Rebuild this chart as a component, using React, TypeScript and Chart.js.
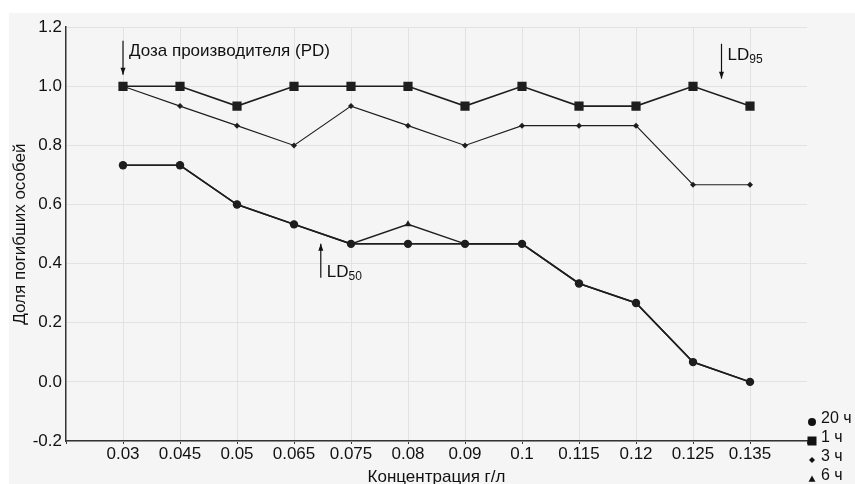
import React, { useEffect, useRef } from 'react';
import { Chart, registerables } from 'chart.js';

Chart.register(...registerables);

// ---- data ----
const concentrations = ['0.03', '0.045', '0.05', '0.065', '0.075', '0.08', '0.09', '0.1', '0.115', '0.12', '0.125', '0.135'];
const yTickValues = [-0.2, 0.0, 0.2, 0.4, 0.6, 0.8, 1.0, 1.2];
const series20h = [0.733, 0.733, 0.6, 0.533, 0.467, 0.467, 0.467, 0.467, 0.333, 0.267, 0.067, 0.0];
const series1h = [1.0, 1.0, 0.933, 1.0, 1.0, 1.0, 0.933, 1.0, 0.933, 0.933, 1.0, 0.933];
const series3h = [1.0, 0.933, 0.867, 0.8, 0.933, 0.867, 0.8, 0.867, 0.867, 0.867, 0.667, 0.667];
const series6h = [0.733, 0.733, 0.6, 0.533, 0.467, 0.533, 0.467, 0.467, 0.333, 0.267, 0.067, 0.0];
const seriesNames = ['20 ч', '1 ч', '3 ч', '6 ч'];

const xTitle = 'Концентрация г/л';
const yTitle = 'Доля погибших особей';

// annotations: arrow from (x, yFrom) to (x, yTo) in data coordinates (x = category slot)
const annotations = [
  { x: 1, yFrom: 1.154, yTo: 1.039, text: 'Доза производителя (PD)', sub: '', textY: 1.12 },
  { x: 11.5, yFrom: 1.144, yTo: 1.026, text: 'LD', sub: '95', textY: 1.105 },
  { x: 4.47, yFrom: 0.352, yTo: 0.467, text: 'LD', sub: '50', textY: 0.37 },
];

const FONT = '"Liberation Sans", Arial, Helvetica, sans-serif';
const LINE = '#1e1e1e';

const pad = (arr: number[]) => [null, ...arr, null];

function drawMarker(ctx: CanvasRenderingContext2D, style: string, x: number, y: number, r: number) {
  ctx.beginPath();
  if (style === 'circle') {
    ctx.arc(x, y, r, 0, Math.PI * 2);
  } else if (style === 'rect') {
    ctx.rect(x - r, y - r, 2 * r, 2 * r);
  } else if (style === 'rectRot') {
    ctx.moveTo(x, y - r);
    ctx.lineTo(x + r, y);
    ctx.lineTo(x, y + r);
    ctx.lineTo(x - r, y);
    ctx.closePath();
  } else {
    ctx.moveTo(x, y - r);
    ctx.lineTo(x + r, y + r * 0.8);
    ctx.lineTo(x - r, y + r * 0.8);
    ctx.closePath();
  }
  ctx.fill();
}

const bgPlugin = {
  id: 'bg',
  beforeDraw(chart: any) {
    const ctx = chart.ctx;
    ctx.save();
    ctx.fillStyle = '#f5f5f5';
    ctx.fillRect(0, 0, chart.width, chart.height);
    ctx.restore();
  },
};

const overlayPlugin = {
  id: 'overlay',
  afterDraw(chart: any) {
    const ctx: CanvasRenderingContext2D = chart.ctx;
    const xs = chart.scales.x;
    const ys = chart.scales.y;
    ctx.save();
    ctx.fillStyle = '#111';
    ctx.strokeStyle = '#111';
    ctx.lineWidth = 1.2;
    // arrows + labels
    annotations.forEach((a) => {
      const px = xs.getPixelForValue(a.x);
      const y1 = ys.getPixelForValue(a.yFrom);
      const y2 = ys.getPixelForValue(a.yTo);
      ctx.beginPath();
      ctx.moveTo(px, y1);
      ctx.lineTo(px, y2);
      ctx.stroke();
      const dir = y2 > y1 ? 1 : -1;
      ctx.beginPath();
      ctx.moveTo(px, y2);
      ctx.lineTo(px - 2.5, y2 - dir * 7);
      ctx.lineTo(px + 2.5, y2 - dir * 7);
      ctx.closePath();
      ctx.fill();
      const ty = ys.getPixelForValue(a.textY);
      ctx.font = `17px ${FONT}`;
      ctx.textBaseline = 'middle';
      ctx.textAlign = 'left';
      ctx.fillText(a.text, px + 6, ty);
      if (a.sub) {
        const w = ctx.measureText(a.text).width;
        ctx.font = `12px ${FONT}`;
        ctx.fillText(a.sub, px + 6 + w, ty + 4);
      }
    });
    // x axis title
    ctx.font = `17px ${FONT}`;
    ctx.textAlign = 'center';
    ctx.textBaseline = 'alphabetic';
    ctx.fillText(xTitle, (xs.left + xs.right) / 2, chart.height - 2);
    // legend
    ctx.textAlign = 'left';
    const styles = ['circle', 'rect', 'rectRot', 'triangle'];
    const radii = [4, 4.5, 3, 3.5];
    const lx = xs.right + 5;
    const baseY = xs.top - 19;
    ctx.font = `16px ${FONT}`;
    ctx.textBaseline = 'middle';
    seriesNames.forEach((name, i) => {
      const y = baseY + i * 19;
      drawMarker(ctx, styles[i], lx, y, radii[i]);
      ctx.fillText(name, lx + 9, y - 3);
    });
    ctx.restore();
  },
};

export default function App() {
  const ref = useRef<HTMLCanvasElement | null>(null);
  useEffect(() => {
    if (!ref.current) return;
    const labels = ['', ...concentrations, ''];
    const common = {
      borderColor: LINE,
      backgroundColor: LINE,
      pointBorderColor: LINE,
      pointBackgroundColor: LINE,
      pointBorderWidth: 0,
      spanGaps: false,
    };
    const chart = new Chart(ref.current, {
      type: 'line',
      data: {
        labels,
        datasets: [
          { ...common, label: seriesNames[3], data: pad(series6h) as any, pointStyle: 'triangle', pointRadius: 4, borderWidth: 1.5 },
          { ...common, label: seriesNames[0], data: pad(series20h) as any, pointStyle: 'circle', pointRadius: 4.2, borderWidth: 1.6 },
          { ...common, label: seriesNames[2], data: pad(series3h) as any, pointStyle: 'rectRot', pointRadius: 3, borderWidth: 1.1 },
          { ...common, label: seriesNames[1], data: pad(series1h) as any, pointStyle: 'rect', pointRadius: 6.5, borderWidth: 1.6 },
        ],
      },
      options: {
        animation: false,
        responsive: false,
        maintainAspectRatio: false,
        layout: { padding: { top: 12, right: 48, left: 0, bottom: 0 } },
        plugins: { legend: { display: false }, tooltip: { enabled: false } },
        scales: {
          x: {
            type: 'category',
            offset: false,
            grid: {
              color: (c: any) => (c.index === 0 || c.index === labels.length - 1 ? 'rgba(0,0,0,0)' : '#e2e2e2'),
              tickColor: '#333',
              tickLength: 3,
            },
            border: { color: '#333', width: 1.5 },
            ticks: { color: '#111', font: { family: FONT, size: 17 }, padding: 0, maxRotation: 0, autoSkip: false },
            title: { display: false, text: xTitle },
            afterFit: (s: any) => { s.height = 43; },
          },
          y: {
            min: yTickValues[0],
            max: yTickValues[yTickValues.length - 1],
            afterBuildTicks: (s: any) => { s.ticks = yTickValues.map((v) => ({ value: v })); },
            grid: { color: '#e2e2e2', drawTicks: false },
            border: { color: '#333', width: 1.5 },
            ticks: { color: '#111', font: { family: FONT, size: 17 }, padding: 4, callback: (v: any) => Number(v).toFixed(1) },
            title: { display: true, text: yTitle, color: '#111', font: { family: FONT, size: 17 }, padding: { top: 1, bottom: 0 } },
            afterFit: (s: any) => { s.width = 57; },
          },
        },
      },
      plugins: [bgPlugin, overlayPlugin],
    });
    return () => chart.destroy();
  }, []);
  return (
    <div style={{ position: 'absolute', left: 9, top: 13, width: 846, height: 471 }}>
      <canvas ref={ref} width={846} height={471} style={{ display: 'block' }} />
    </div>
  );
}
